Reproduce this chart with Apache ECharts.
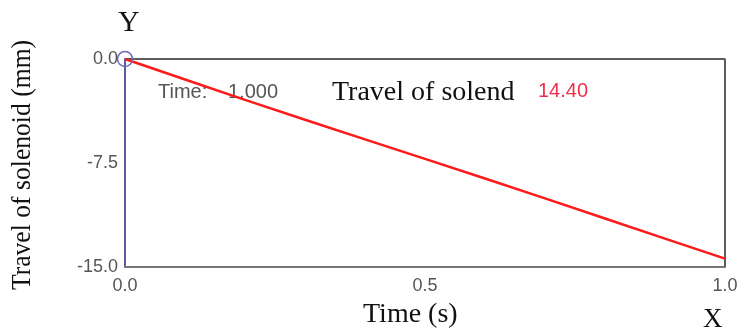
<!DOCTYPE html>
<html>
<head>
<meta charset="utf-8">
<style>html,body{margin:0;padding:0;background:#fff}#c{width:743px;height:335px}</style>
<script src="https://cdn.jsdelivr.net/npm/echarts@6/dist/echarts.min.js"></script>
</head>
<body>
<div id="c"></div>
<script>
// Solenoid travel over time
const timeS = [0, 0.1, 0.2, 0.3, 0.4, 0.5, 0.6, 0.7, 0.8, 0.9, 1.0];
const travelMm = [0, -1.48, -2.95, -4.38, -5.8, -7.2, -8.62, -10.05, -11.5, -12.95, -14.40];
const xTicks = [0, 0.5, 1.0];
const yTicks = [0, -7.5, -15];
const cursorTime = '1.000';
const cursorValue = '14.40';

const chart = echarts.init(document.getElementById('c'));
const serif = '"Liberation Serif", "DejaVu Serif", serif';
const sans = '"Liberation Sans", Arial, sans-serif';
chart.setOption({
  animation: false,
  grid: { left: 125, right: 18, top: 59, bottom: 68 },
  xAxis: {
    type: 'value', min: 0, max: 1, interval: 0.5,
    axisLine: { show: true, onZero: false, lineStyle: { color: '#777', width: 2 } },
    axisTick: { show: false },
    splitLine: { show: false },
    axisLabel: { color: '#555', fontFamily: sans, fontSize: 18, margin: 10,
      formatter: v => xTicks.includes(v) ? v.toFixed(1) : '' }
  },
  yAxis: {
    type: 'value', min: -15, max: 0, interval: 7.5,
    axisLine: { show: true, onZero: false, lineStyle: { color: '#5a5aa8', width: 2 } },
    axisTick: { show: false },
    splitLine: { show: false },
    axisLabel: { color: '#555', fontFamily: sans, fontSize: 18, margin: 7,
      formatter: v => yTicks.includes(v) ? v.toFixed(1) : '' }
  },
  series: [
    {
      type: 'line',
      data: timeS.map((t, i) => [t, travelMm[i]]),
      showSymbol: false,
      lineStyle: { color: '#ff1a1a', width: 2.5 },
      markPoint: {
        symbol: 'circle', symbolSize: 15, silent: true,
        itemStyle: { color: 'transparent', borderColor: '#6a6ab8', borderWidth: 1.5 },
        label: { show: false },
        data: [{ coord: [0, 0] }]
      }
    },
    {
      // frame on top and right sides
      type: 'line', silent: true, showSymbol: false,
      data: [[0, 0], [1, 0], [1, -15]],
      lineStyle: { color: '#5c5c5c', width: 2 },
      z: 1
    }
  ],
  graphic: [
    { type: 'text', style: { x: 118, y: 23, text: 'Y', font: '30px ' + serif, fill: '#111', verticalAlign: 'middle' } },
    { type: 'text', style: { x: 703, y: 320, text: 'X', font: '27px ' + serif, fill: '#111', verticalAlign: 'middle' } },
    { type: 'text', style: { x: 363, y: 315, text: 'Time (s)', font: '28px ' + serif, fill: '#111', verticalAlign: 'middle' } },
    { type: 'text', x: 23, y: 165, rotation: Math.PI / 2, scaleX: 0.915,
      style: { x: 0, y: 0, text: 'Travel of solenoid (mm)', font: '28px ' + serif, fill: '#111',
        align: 'center', verticalAlign: 'middle' } },
    { type: 'text', style: { x: 158, y: 92, text: 'Time:', font: '20px ' + sans, fill: '#555', verticalAlign: 'middle' } },
    { type: 'text', style: { x: 228, y: 92, text: cursorTime, font: '20px ' + sans, fill: '#555', verticalAlign: 'middle' } },
    { type: 'text', style: { x: 332, y: 93, text: 'Travel of solend', font: '28px ' + serif, fill: '#111', verticalAlign: 'middle' } },
    { type: 'text', style: { x: 538, y: 91, text: cursorValue, font: '20px ' + sans, fill: '#f0304a', verticalAlign: 'middle' } }
  ]
});
</script>
</body>
</html>
